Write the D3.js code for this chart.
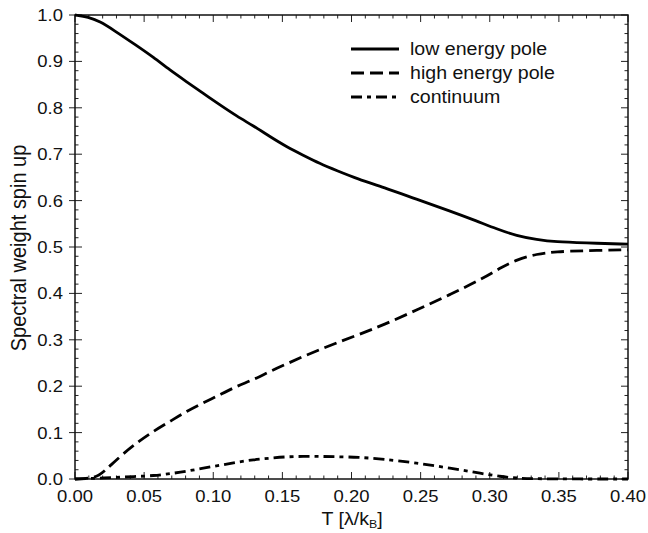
<!DOCTYPE html>
<html>
<head>
<meta charset="utf-8">
<script src="https://cdn.jsdelivr.net/npm/d3@7"></script>
<style>
  body { margin: 0; background: #fff; }
  text { font-family: "Liberation Sans", Arial, Helvetica, sans-serif; fill: #111; }
</style>
</head>
<body>
<svg id="chart" width="648" height="533"></svg>
<script>
// values
var lowT  = [0, 0.0096, 0.018, 0.0277, 0.0446, 0.0567, 0.0687, 0.0808, 0.0928, 0.1049, 0.117, 0.129, 0.141, 0.153, 0.165, 0.177, 0.189, 0.205, 0.223, 0.247, 0.271, 0.2906, 0.305, 0.3195, 0.334, 0.348, 0.368, 0.40];
var lowV  = [1.0, 0.996, 0.986, 0.968, 0.934, 0.909, 0.881, 0.856, 0.831, 0.806, 0.782, 0.761, 0.738, 0.716, 0.698, 0.680, 0.665, 0.646, 0.629, 0.603, 0.578, 0.556, 0.539, 0.524, 0.516, 0.511, 0.509, 0.506];

var highT = [0, 0.0145, 0.02, 0.0326, 0.0446, 0.0567, 0.0687, 0.0808, 0.0928, 0.105, 0.117, 0.129, 0.141, 0.153, 0.165, 0.177, 0.189, 0.205, 0.223, 0.247, 0.271, 0.295, 0.307, 0.3195, 0.334, 0.348, 0.368, 0.40];
var highV = [0, 0.002, 0.013, 0.049, 0.078, 0.103, 0.124, 0.146, 0.164, 0.182, 0.200, 0.214, 0.232, 0.248, 0.264, 0.279, 0.293, 0.311, 0.332, 0.364, 0.397, 0.432, 0.454, 0.473, 0.485, 0.490, 0.492, 0.494];

var contT = [0, 0.0205, 0.0446, 0.0567, 0.0687, 0.0808, 0.0928, 0.105, 0.117, 0.129, 0.141, 0.153, 0.165, 0.177, 0.189, 0.205, 0.223, 0.247, 0.271, 0.295, 0.307, 0.3195, 0.344, 0.40];
var contV = [0, 0.002, 0.0056, 0.007, 0.0114, 0.0165, 0.0237, 0.0294, 0.036, 0.0416, 0.045, 0.048, 0.0487, 0.0487, 0.048, 0.047, 0.043, 0.0345, 0.0237, 0.0114, 0.0057, 0.0013, 0, 0];

var seriesNames = ["low energy pole", "high energy pole", "continuum"];
var xTicks = [0, 0.05, 0.10, 0.15, 0.20, 0.25, 0.30, 0.35, 0.40];
var yTicks = [0, 0.1, 0.2, 0.3, 0.4, 0.5, 0.6, 0.7, 0.8, 0.9, 1.0];

var svg = d3.select('#chart');
var pLeft = 75, pRight = 628, pTop = 15, pBottom = 479;
var stretch = 1.12;

var x = d3.scaleLinear().domain([0, 0.4]).range([pLeft, pRight]);
var y = d3.scaleLinear().domain([0, 1]).range([pBottom, pTop]);

// text is a bit wide in the reference, so widen it horizontally
function label(px, py, s, size, anchor, rot){
  var g = svg.append('g')
    .attr('transform', 'translate(' + px + ',' + py + ') scale(' + stretch + ',1)' + (rot ? ' rotate(' + rot + ')' : ''));
  return g.append('text')
    .attr('font-size', size)
    .attr('text-anchor', anchor || 'start')
    .text(s);
}

// ticks on all four sides, pointing in; major ones on the left also stick out
var tk = svg.append('g').attr('stroke', '#222').attr('stroke-width', 1);
d3.range(0, 0.4001, 0.01).forEach(function(t){
  var major = Math.abs(t / 0.05 - Math.round(t / 0.05)) < 1e-6;
  var len = major ? 7 : 3.5;
  tk.append('line').attr('x1', x(t)).attr('x2', x(t)).attr('y1', pBottom).attr('y2', pBottom - len);
  tk.append('line').attr('x1', x(t)).attr('x2', x(t)).attr('y1', pTop).attr('y2', pTop + len);
});
d3.range(0, 1.0001, 0.02).forEach(function(v){
  var major = Math.abs(v / 0.1 - Math.round(v / 0.1)) < 1e-6;
  var len = major ? 7 : 3.5;
  tk.append('line').attr('y1', y(v)).attr('y2', y(v)).attr('x1', major ? pLeft - 6 : pLeft).attr('x2', pLeft + len);
  tk.append('line').attr('y1', y(v)).attr('y2', y(v)).attr('x1', pRight).attr('x2', pRight - len);
});

svg.append('rect')
  .attr('x', pLeft).attr('y', pTop)
  .attr('width', pRight - pLeft).attr('height', pBottom - pTop)
  .attr('fill', 'none').attr('stroke', '#111').attr('stroke-width', 1.5);

xTicks.forEach(function(t){
  label(x(t), 502, t.toFixed(2), 16.5, 'middle');
});
yTicks.forEach(function(v){
  label(63, y(v) + 6, v.toFixed(1), 16.5, 'end');
});

var title = label(352, 525, 'T [λ/k', 17.5, 'middle');
title.append('tspan').attr('font-size', 11).attr('dy', 3).text('B');
title.append('tspan').attr('dy', -3).text(']');

label(26, 248, 'Spectral weight spin up', 20, 'middle', -90);

// curves
var line = d3.line()
  .x(function(d){ return x(d[0]); })
  .y(function(d){ return y(d[1]); })
  .curve(d3.curveBasis);

var dashes = [null, '13,6', '11,5,4,5'];
var series = [d3.zip(lowT, lowV), d3.zip(highT, highV), d3.zip(contT, contV)];

series.forEach(function(s, i){
  svg.append('path')
    .datum(s)
    .attr('d', line)
    .attr('fill', 'none')
    .attr('stroke', '#000')
    .attr('stroke-width', 2.8)
    .attr('stroke-dasharray', dashes[i]);
});

// legend
seriesNames.forEach(function(n, i){
  var ly = 49 + i * 24;
  svg.append('line')
    .attr('x1', 351).attr('x2', 399)
    .attr('y1', ly).attr('y2', ly)
    .attr('stroke', '#000').attr('stroke-width', 2.8)
    .attr('stroke-dasharray', dashes[i]);
  label(410, ly + 6, n, 17.5, 'start');
});
</script>
</body>
</html>
